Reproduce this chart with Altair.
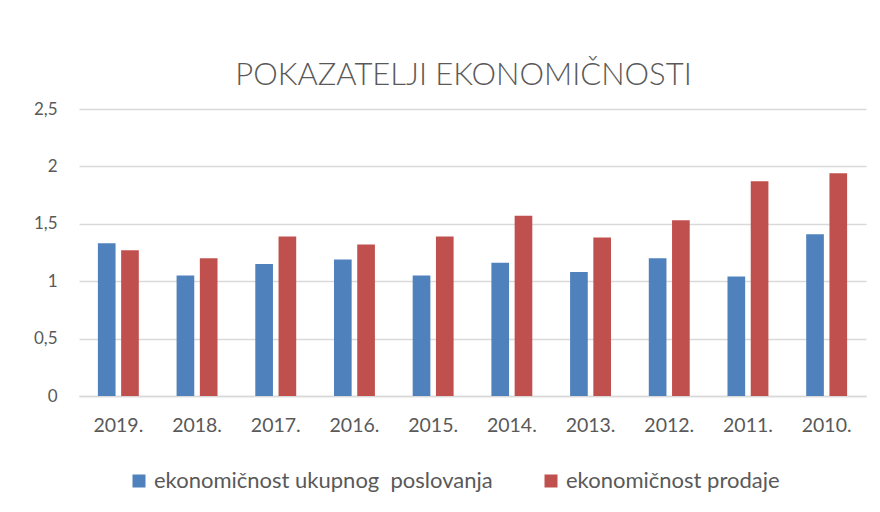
import altair as alt
import pandas as pd

years = ["2019.", "2018.", "2017.", "2016.", "2015.", "2014.", "2013.", "2012.", "2011.", "2010."]
series_names = ["ekonomičnost ukupnog\u00a0 poslovanja", "ekonomičnost prodaje"]
ukupno = [1.33, 1.05, 1.15, 1.19, 1.05, 1.16, 1.08, 1.20, 1.04, 1.41]
prodaja = [1.27, 1.20, 1.39, 1.32, 1.39, 1.57, 1.38, 1.53, 1.87, 1.94]
y_ticks = [0, 0.5, 1, 1.5, 2, 2.5]
colors = ["#4F81BD", "#C0504D"]

rows = []
for i, y in enumerate(years):
    rows.append({"godina": y, "serija": series_names[0], "vrijednost": ukupno[i]})
    rows.append({"godina": y, "serija": series_names[1], "vrijednost": prodaja[i]})
df = pd.DataFrame(rows)

FONT = "Lato"
TXT = "#595959"

chart = alt.Chart(df).mark_bar().encode(
    x=alt.X("godina:N", sort=years,
            scale=alt.Scale(paddingInner=0.48, paddingOuter=0.24),
            axis=alt.Axis(title=None, labelAngle=0, ticks=False, domain=True, grid=False,
                          domainColor="#D9D9D9", domainWidth=1.5,
                          labelFontSize=19.5, labelColor=TXT, labelFont=FONT,
                          labelPadding=20)),
    xOffset=alt.XOffset("serija:N", sort=series_names,
                        scale=alt.Scale(paddingInner=0.24)),
    y=alt.Y("vrijednost:Q",
            scale=alt.Scale(domain=[0, 2.5]),
            axis=alt.Axis(title=None, values=y_ticks, ticks=False, domain=False,
                          gridColor="#D9D9D9", gridWidth=1.5,
                          labelExpr="replace(format(datum.value, '~g'), '.', ',')",
                          labelFontSize=17, labelColor=TXT, labelFont=FONT,
                          labelPadding=22)),
    color=alt.Color("serija:N", sort=series_names,
                    scale=alt.Scale(domain=series_names, range=colors),
                    legend=alt.Legend(title=None, orient="none", direction="horizontal",
                                      legendX=49, legendY=361,
                                      symbolType="square", symbolSize=169,
                                      symbolStrokeWidth=0,
                                      labelFontSize=22, labelColor=TXT, labelFont=FONT,
                                      labelLimit=500, columnPadding=47,
                                      labelOffset=4)),
).properties(
    width=787,
    height=287,
    title=alt.TitleParams("POKAZATELJI EKONOMIČNOSTI", font=FONT, fontSize=31,
                          fontWeight=300, color=TXT, offset=8, dx=-9),
    autosize=alt.AutoSizeParams(type="none"),
    padding={"left": 71, "top": 101, "right": 6, "bottom": 100},
).configure(background="white").configure_view(stroke=None, strokeWidth=0)

chart.save("out.html", embed_options={"renderer": "svg", "actions": False})
